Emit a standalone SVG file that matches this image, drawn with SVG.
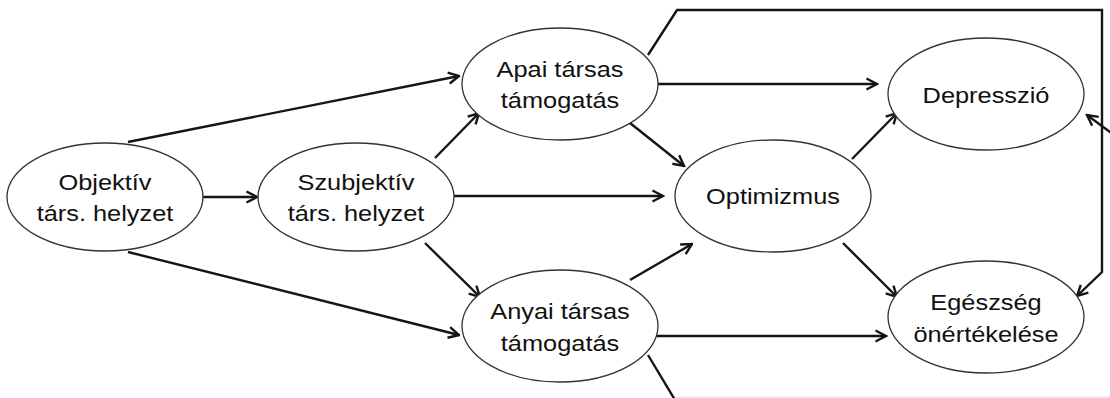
<svg xmlns="http://www.w3.org/2000/svg" width="1110" height="398" viewBox="0 0 1110 398">
<defs>
<style>
.node ellipse{fill:#fff;stroke:#333;stroke-width:1.3}
.node text{font-family:"Liberation Sans",Arial,sans-serif;font-size:21.5px;fill:#111;text-anchor:middle}
.conn path{fill:none;stroke:#151515;stroke-width:2.4;stroke-linejoin:miter}
.conn .arr{marker-end:url(#ah)}
</style>
<marker id="ah" viewBox="0 0 14 14" refX="12.5" refY="7" markerWidth="14" markerHeight="14" markerUnits="userSpaceOnUse" orient="auto">
<path d="M2,1.5 L12.5,7 L2,12.5" fill="none" stroke="#151515" stroke-width="2.4"/>
</marker>
</defs>
<rect width="1110" height="398" fill="#fff"/>
<g id="connectors" class="conn">
<path class="arr" d="M128,142 L459,76"/>
<path class="arr" d="M128,252 L459,335"/>
<path class="arr" d="M203,197 L257,197"/>
<path class="arr" d="M435,158 L479,113"/>
<path class="arr" d="M425,243 L480,297"/>
<path class="arr" d="M454,196 L663,196"/>
<path class="arr" d="M630,123 L684,166"/>
<path class="arr" d="M657,84 L877,84"/>
<path class="arr" d="M630,280 L692,244"/>
<path class="arr" d="M657,336 L886,336"/>
<path class="arr" d="M852,159 L897,113"/>
<path class="arr" d="M843,243 L897,297"/>
<path class="arr" d="M648,55 L677,10 L1102,10 L1102,272 L1077,296"/>
<path class="arr" d="M1122,141 L1087,115"/>
<path d="M648,355 L675,400"/>
<path d="M676,397 L1110,397" style="stroke:#ddd;stroke-width:1"/>
</g>
<g id="objektiv" class="node">
<ellipse cx="105" cy="197" rx="98" ry="54"/>
<text transform="translate(105,190) scale(1.18,1)">Objektív</text>
<text transform="translate(105,221) scale(1.18,1)">társ. helyzet</text>
</g>
<g id="szubjektiv" class="node">
<ellipse cx="356" cy="197" rx="98" ry="54"/>
<text transform="translate(356,190) scale(1.18,1)">Szubjektív</text>
<text transform="translate(356,221) scale(1.18,1)">társ. helyzet</text>
</g>
<g id="apai" class="node">
<ellipse cx="560" cy="84" rx="98" ry="56"/>
<text transform="translate(560,77) scale(1.18,1)">Apai társas</text>
<text transform="translate(560,108) scale(1.18,1)">támogatás</text>
</g>
<g id="anyai" class="node">
<ellipse cx="560" cy="326" rx="98" ry="56"/>
<text transform="translate(560,319) scale(1.18,1)">Anyai társas</text>
<text transform="translate(560,351) scale(1.18,1)">támogatás</text>
</g>
<g id="optimizmus" class="node">
<ellipse cx="773" cy="196" rx="98" ry="56"/>
<text transform="translate(773,204) scale(1.18,1)">Optimizmus</text>
</g>
<g id="depresszio" class="node">
<ellipse cx="986" cy="94" rx="98" ry="56"/>
<text transform="translate(986,103) scale(1.18,1)">Depresszió</text>
</g>
<g id="egeszseg" class="node">
<ellipse cx="986" cy="317" rx="98" ry="56"/>
<text transform="translate(986,310) scale(1.18,1)">Egészség</text>
<text transform="translate(986,342) scale(1.18,1)">önértékelése</text>
</g>
</svg>
